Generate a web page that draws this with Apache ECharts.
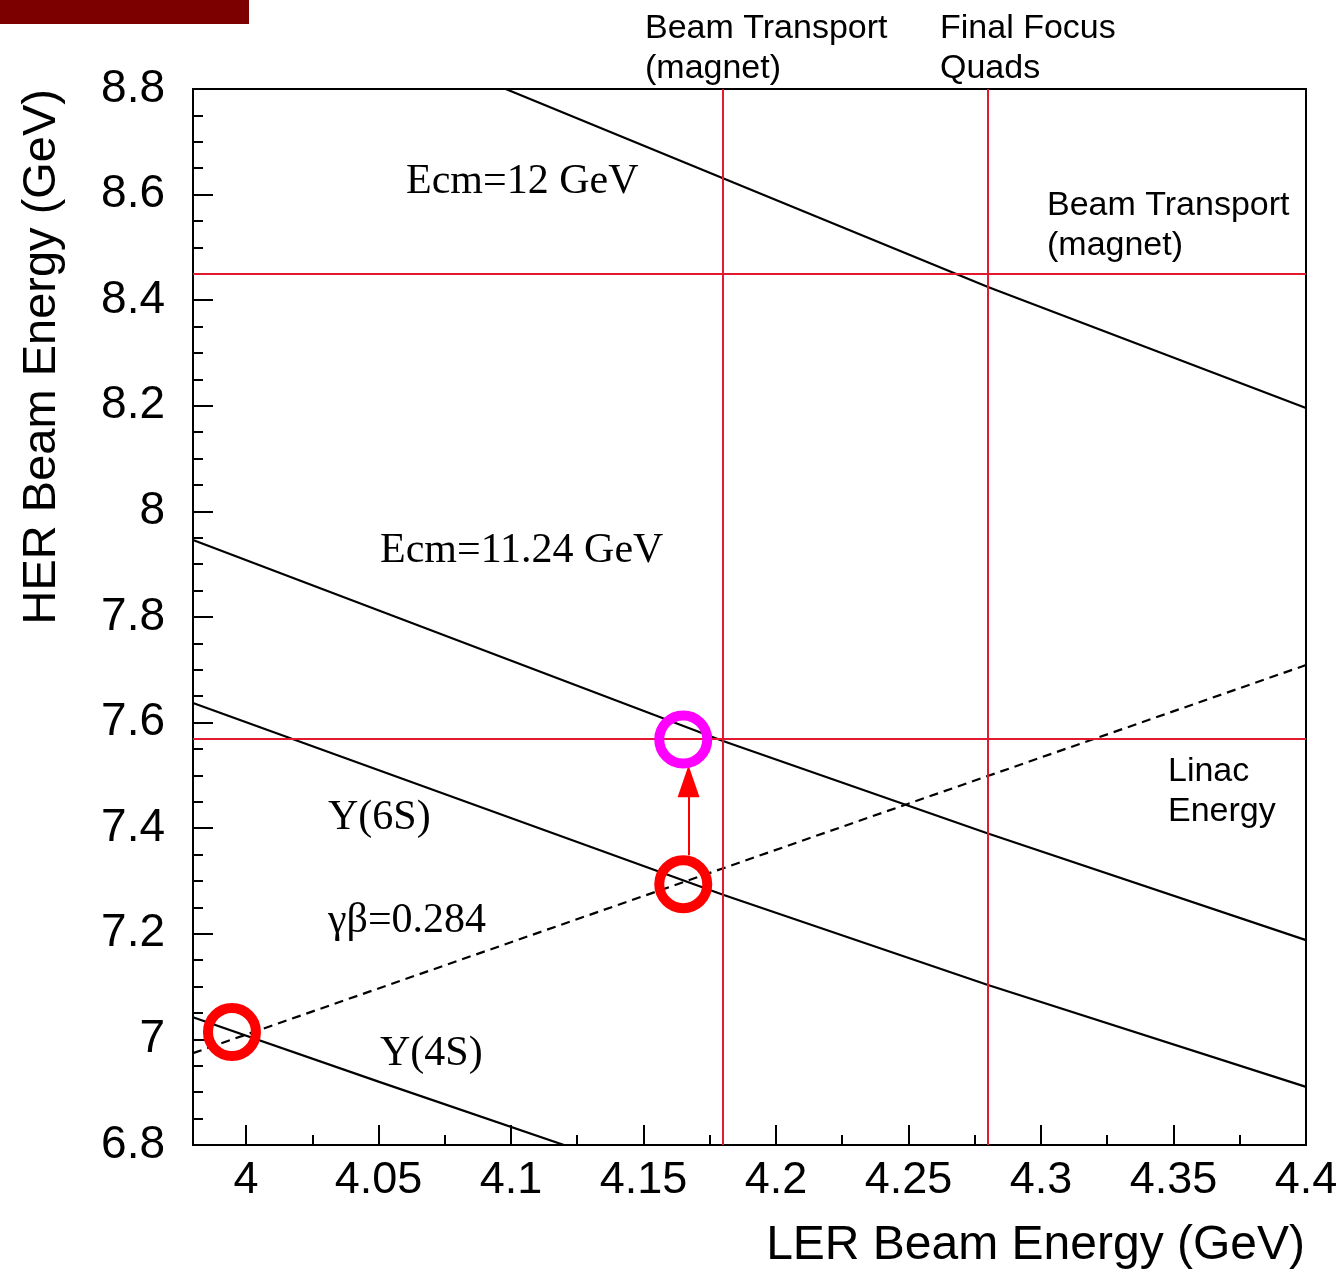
<!DOCTYPE html>
<html>
<head>
<meta charset="utf-8">
<script src="https://cdn.jsdelivr.net/npm/echarts@6/dist/echarts.min.js"></script>
<style>
  html, body { margin: 0; padding: 0; background: #fff; }
  #chart { width: 1344px; height: 1269px; }
</style>
</head>
<body>
<div id="chart"></div>
<script>
// Axis ranges and ticks (GeV)
const xRange = [3.98, 4.4];
const yRange = [6.8, 8.8];
const xTicks = [4.0, 4.05, 4.1, 4.15, 4.2, 4.25, 4.3, 4.35, 4.4];
const xMinorTicks = [4.025, 4.075, 4.125, 4.175, 4.225, 4.275, 4.325, 4.375];
const yTickStep = 0.2;

// Constant-Ecm curves: [LER energy, HER energy]
const ecm12 = [[4.098, 8.8], [4.18, 8.631], [4.28, 8.425], [4.4, 8.196]];
const ecm1124 = [[3.98, 7.946], [4.18, 7.565], [4.28, 7.39], [4.4, 7.188]];
const upsilon6S = [[3.98, 7.637], [4.18, 7.274], [4.28, 7.103], [4.4, 6.91]];
const upsilon4S = [[3.98, 7.042], [4.05, 6.92], [4.12, 6.8]];
// Constant boost line
const gammaBeta = [[3.98, 6.974], [4.4, 7.709]];

// Hardware limits
const lerLimitsX = [4.18, 4.28];   // Beam Transport (magnet), Final Focus Quads
const herLimitsY = [8.45, 7.57];   // Beam Transport (magnet), Linac Energy

// Operating points
const currentPoints = [[3.9947, 7.014], [4.165, 7.294]];
const targetPoint = [[4.165, 7.568]];
const shiftArrow = [[4.167, 7.349], [4.167, 7.489]];

const sans = '"Liberation Sans", Arial, sans-serif';
const serif = '"Liberation Serif", "Times New Roman", serif';
const LIMIT_RED = '#e3192d';

const chart = echarts.init(document.getElementById('chart'), null, { renderer: 'canvas' });

function curve(name, data, dashed) {
  return {
    name, type: 'line', data, symbol: 'none', silent: true,
    lineStyle: { color: '#000', width: 2.2, type: dashed ? [9, 6] : 'solid' },
    z: 3
  };
}

function serifText(text, x, y) {
  return {
    type: 'text', x, y,
    style: { text, fill: '#000', font: '42px ' + serif, textAlign: 'left', textVerticalAlign: 'middle' }
  };
}
function sansText(text, x, y) {
  return {
    type: 'text', x, y,
    style: { text, fill: '#000', font: '34px ' + sans, lineHeight: 40, textAlign: 'left', textVerticalAlign: 'top' }
  };
}

chart.setOption({
  animation: false,
  backgroundColor: '#fff',
  grid: {
    left: 193, top: 89, right: 38, bottom: 124,
    show: true, borderColor: '#000', borderWidth: 2, backgroundColor: 'transparent'
  },
  xAxis: [{
    type: 'value', min: xRange[0], max: xRange[1],
    axisLine: { show: true, lineStyle: { color: '#000', width: 2 } },
    axisTick: { show: true, inside: true, length: 20, customValues: xTicks, lineStyle: { color: '#000', width: 2 } },
    axisLabel: { show: true, customValues: xTicks, margin: 13, color: '#000', fontSize: 45, fontFamily: sans },
    splitLine: { show: false }
  }, {
    type: 'value', min: xRange[0], max: xRange[1], position: 'bottom',
    axisLine: { show: false },
    axisTick: { show: true, inside: true, length: 10, customValues: xMinorTicks, lineStyle: { color: '#000', width: 2 } },
    axisLabel: { show: false },
    splitLine: { show: false }
  }],
  yAxis: {
    type: 'value', min: yRange[0], max: yRange[1], interval: yTickStep,
    axisLine: { show: true, lineStyle: { color: '#000', width: 2 } },
    axisTick: { show: true, inside: true, length: 20, lineStyle: { color: '#000', width: 2 } },
    minorTick: { show: true, splitNumber: 4, length: 10, lineStyle: { color: '#000', width: 2 } },
    axisLabel: { margin: 28, color: '#000', fontSize: 46, fontFamily: sans, padding: [8, 0, 0, 0] },
    splitLine: { show: false },
    minorSplitLine: { show: false }
  },
  series: [
    curve('Ecm=12 GeV', ecm12),
    curve('Ecm=11.24 GeV', ecm1124),
    curve('Y(6S)', upsilon6S),
    curve('Y(4S)', upsilon4S),
    curve('γβ=0.284', gammaBeta, true),
    {
      name: 'limits', type: 'line', data: [], silent: true,
      markLine: {
        silent: true, symbol: 'none', animation: false,
        label: { show: false },
        lineStyle: { color: LIMIT_RED, width: 2, type: 'solid', opacity: 1 },
        data: lerLimitsX.map(v => ({ xAxis: v })).concat(herLimitsY.map(v => ({ yAxis: v })))
      },
      z: 2
    },
    {
      name: 'shift', type: 'line', data: [], silent: true,
      markLine: {
        silent: true, symbol: ['none', 'triangle'], symbolSize: [22, 32], animation: false,
        label: { show: false },
        lineStyle: { color: '#ff0000', width: 2, type: 'solid', opacity: 1 },
        itemStyle: { color: '#ff0000' },
        data: [[{ coord: shiftArrow[0] }, { coord: shiftArrow[1] }]]
      },
      z: 4
    },
    {
      name: 'current', type: 'scatter', data: currentPoints, silent: true,
      symbol: 'circle', symbolSize: 48,
      itemStyle: { color: 'transparent', borderColor: '#ff0000', borderWidth: 10, opacity: 1 },
      z: 5
    },
    {
      name: 'target', type: 'scatter', data: targetPoint, silent: true,
      symbol: 'circle', symbolSize: 48,
      itemStyle: { color: 'transparent', borderColor: '#ff00ff', borderWidth: 10, opacity: 1 },
      z: 5
    }
  ],
  graphic: [
    { type: 'rect', shape: { x: 0, y: 0, width: 249, height: 24 }, style: { fill: '#7d0000' } },
    sansText('Beam Transport\n(magnet)', 645, 9),
    sansText('Final Focus\nQuads', 940, 9),
    sansText('Beam Transport\n(magnet)', 1047, 186),
    sansText('Linac\nEnergy', 1168, 752),
    serifText('Ecm=12 GeV', 406, 182),
    serifText('Ecm=11.24 GeV', 380, 551),
    serifText('Y(6S)', 328, 818),
    serifText('γβ=0.284', 328, 921),
    serifText('Y(4S)', 380, 1054),
    {
      type: 'text', x: 1305, y: 1246,
      style: { text: 'LER Beam Energy (GeV)', fill: '#000', font: '48px ' + sans, textAlign: 'right', textVerticalAlign: 'middle' }
    },
    {
      type: 'text', x: 42, y: 89, rotation: Math.PI / 2,
      style: { text: 'HER Beam Energy (GeV)', fill: '#000', font: '47px ' + sans, textAlign: 'right', textVerticalAlign: 'middle' }
    }
  ]
});
</script>
</body>
</html>
